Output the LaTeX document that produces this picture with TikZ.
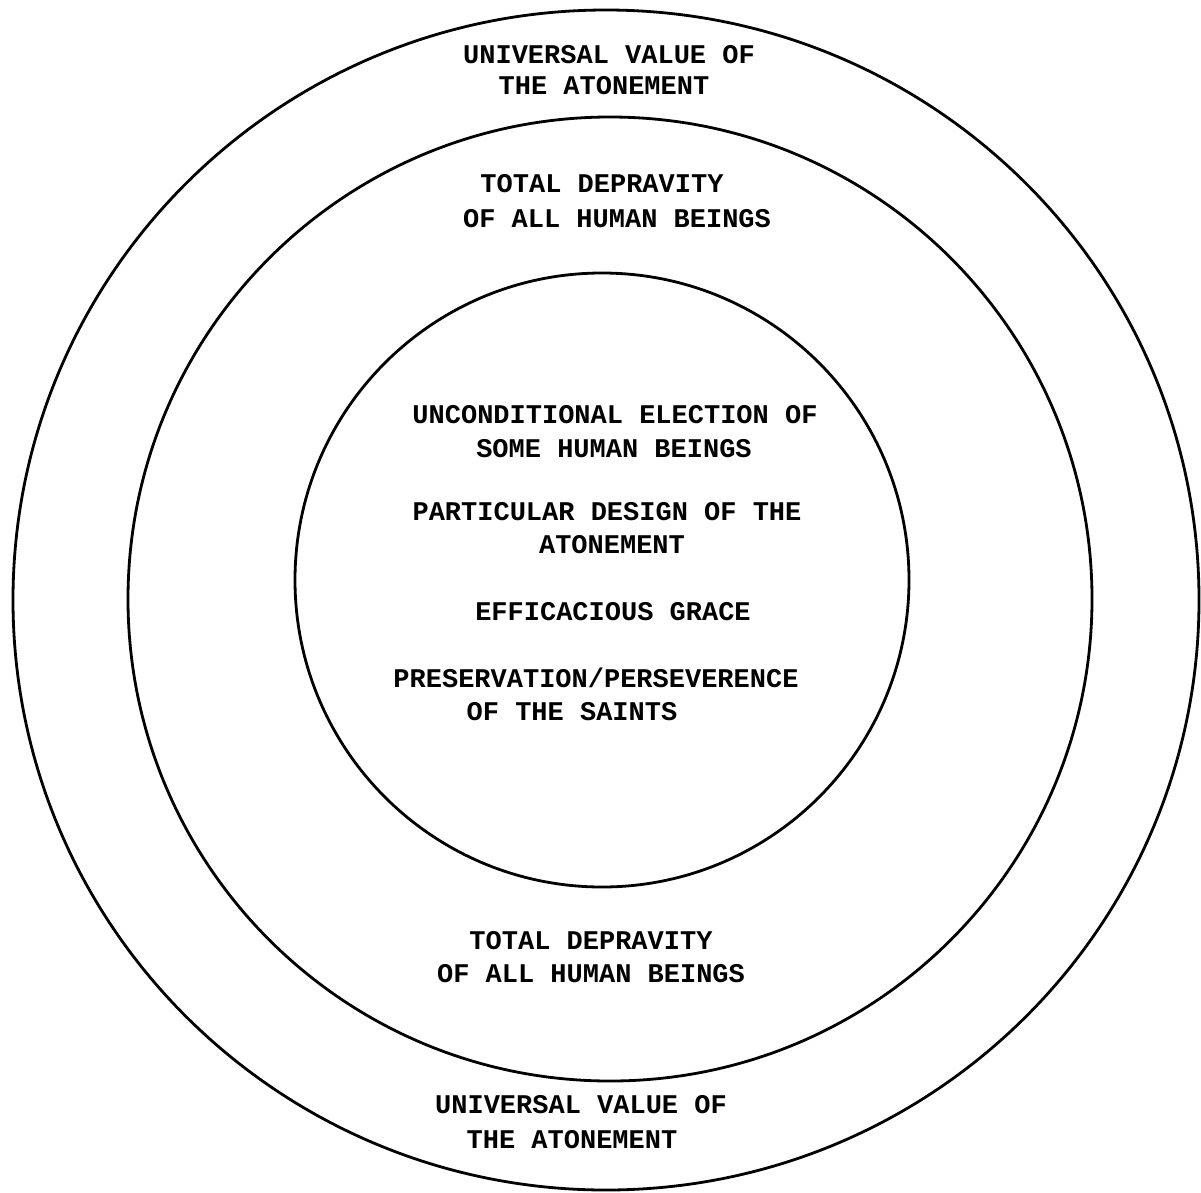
\documentclass[tikz,border=0pt]{standalone}
\usepackage{fontspec}
\newfontfamily\typew{Liberation Mono}
\begin{document}
\begin{tikzpicture}[x=1pt,y=-1pt,
  ring/.style={draw=black,line width=2.8pt},
  lbl/.style={anchor=base,inner sep=0pt,font=\typew\bfseries\fontsize{27}{33}\selectfont}]
\useasboundingbox (0,0) rectangle (1201,1192);
\fill[white] (0,0) rectangle (1201,1192);
% rings
\draw[ring] (606,600) ellipse [x radius=593, y radius=590];
\draw[ring] (610,599) circle [radius=482];
\draw[ring] (602,580) circle [radius=307];
% outer band, top
\node[lbl] (uv1) at (609,63) {UNIVERSAL VALUE OF};
\node[lbl] (uv2) at (604,94) {THE ATONEMENT};
% middle band, top
\node[lbl] (td1) at (602,192) {TOTAL DEPRAVITY};
\node[lbl] (td2) at (617,227) {OF ALL HUMAN BEINGS};
% inner circle
\node[lbl] (ue1) at (615,423) {UNCONDITIONAL ELECTION OF};
\node[lbl] (ue2) at (614,457) {SOME HUMAN BEINGS};
\node[lbl] (pd1) at (607,520) {PARTICULAR DESIGN OF THE};
\node[lbl] (pd2) at (612,553) {ATONEMENT};
\node[lbl] (eg) at (613,620) {EFFICACIOUS GRACE};
\node[lbl] (ps1) at (596,687) {PRESERVATION/PERSEVERENCE};
\node[lbl] (ps2) at (572,720) {OF THE SAINTS};
% middle band, bottom
\node[lbl] (tb1) at (591,949) {TOTAL DEPRAVITY};
\node[lbl] (tb2) at (591,982) {OF ALL HUMAN BEINGS};
% outer band, bottom
\node[lbl] (ub1) at (581,1113) {UNIVERSAL VALUE OF};
\node[lbl] (ub2) at (572,1148) {THE ATONEMENT};
\end{tikzpicture}
\end{document}
